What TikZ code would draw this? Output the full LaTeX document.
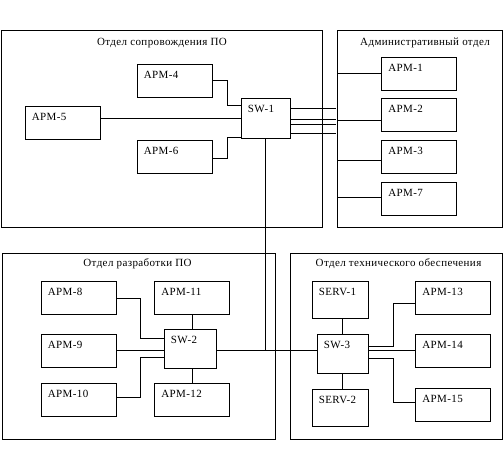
\documentclass[tikz,border=0pt]{standalone}
\usepackage{fontspec}
\setmainfont[LetterSpace=3.5]{Liberation Serif}
\tikzset{
  frame/.style={draw, line width=0.7pt},
  title/.style={inner sep=0pt},
  apm/.style={draw, line width=0.7pt, minimum width=75pt, minimum height=33pt, inner sep=0pt,
    label={[anchor=north west, inner sep=0pt, xshift=7pt, yshift=-7pt]north west:#1}},
  sw/.style={apm={#1}, minimum width=49pt, minimum height=40pt},
  serv/.style={apm={#1}, minimum width=56pt, minimum height=37pt},
  link/.style={line width=0.7pt}
}
\begin{document}
\begin{tikzpicture}[x=1pt,y=-1pt,font=\fontsize{11}{13}\selectfont]
\useasboundingbox (0,0) rectangle (504,456);
% departments
\draw[frame] (1,30) rectangle (322,227);
\draw[frame] (337,30) rectangle (502,227);
\draw[frame] (2,253) rectangle (275,439);
\draw[frame] (290,253) rectangle (502,439);
\node[title] (t1) at (162,43) {Отдел сопровождения ПО};
\node[title] (t2) at (425,43) {Административный отдел};
\node[title] (t3) at (137.5,264) {Отдел разработки ПО};
\node[title] (t4) at (398.5,264) {Отдел технического обеспечения};

% support dept
\node[apm=АРМ-4] (apm4) at (174.5,80.5) {};
\node[apm=АРМ-5] (apm5) at (62.5,123) {};
\node[apm=АРМ-6] (apm6) at (174.5,156.5) {};
\node[sw=SW-1] (sw1) at (265.5,118) {};
\draw[link] (apm4.east) -- ++(15,0) |- ([yshift=-8pt]sw1.north west);
\draw[link] (apm5.east |- sw1.west) -- (sw1.west);
\draw[link] ([yshift=-2pt]apm6.east) -- ++(15,0) |- ([yshift=1pt]sw1.south west);

% admin dept
\node[apm=АРМ-1] (apm1) at (419,74) {};
\node[apm=АРМ-2] (apm2) at (419,115) {};
\node[apm=АРМ-3] (apm3) at (419,156.5) {};
\node[apm=АРМ-7] (apm7) at (419,198.5) {};
\coordinate (bus) at (337,120);
\foreach \d in {11,22,27,36}
  \draw[link] ([yshift=-\d pt]sw1.north east) -- ++(46,0);
\draw[link] ([yshift=1pt]bus |- apm1.west) -- ([yshift=1.5pt]bus |- apm7.west);
\draw[link] ([yshift=1pt]apm1.west) -- ([yshift=1pt]bus |- apm1.west);
\draw[link] (bus) -- (apm2.west |- bus);
\draw[link] ([yshift=-3.5pt]apm3.west) -- ([yshift=-3.5pt]bus |- apm3.west);
\draw[link] ([yshift=1.5pt]apm7.west) -- ([yshift=1.5pt]bus |- apm7.west);

% development dept
\node[apm=АРМ-8] (apm8) at (78.5,298) {};
\node[apm=АРМ-9] (apm9) at (78.5,350.5) {};
\node[apm=АРМ-10] (apm10) at (78.5,400) {};
\node[apm=АРМ-11] (apm11) at (192,298) {};
\node[apm=АРМ-12] (apm12) at (192,400) {};
\node[sw=SW-2, minimum width=52pt, minimum height=39pt] (sw2) at (190,348.5) {};
\draw[link] (apm8.east) -- ++(24,0) |- ([yshift=-10pt]sw2.north west);
\draw[link] (apm9.east) -- (sw2.west |- apm9.east);
\draw[link] ([yshift=3pt]apm10.east) -- ++(24,0) |- ([yshift=11pt]sw2.south west);
\draw[link] (apm11.south) -- (apm11.south |- sw2.north);
\draw[link] (apm12.north) -- (apm12.north |- sw2.south);

% technical dept
\node[serv=SERV-1] (serv1) at (340,300) {};
\node[serv=SERV-2] (serv2) at (340,408) {};
\node[sw=SW-3, minimum width=51pt, minimum height=39pt] (sw3) at (342.5,353.5) {};
\node[apm=АРМ-13] (apm13) at (453,298) {};
\node[apm=АРМ-14] (apm14) at (453,350.5) {};
\node[apm=АРМ-15] (apm15) at (453,405) {};
\draw[link] (sw3.north) -- (sw3.north |- serv1.south);
\draw[link] (sw3.south) -- (sw3.south |- serv2.north);
\draw[link] ([yshift=-13pt]sw3.north east) -- ++(25,0) |- ([yshift=-5pt]apm13.west);
\draw[link] (sw3.east |- apm14.west) -- (apm14.west);
\draw[link] ([yshift=15pt]sw3.south east) -- ++(25,0) |- ([yshift=3pt]apm15.west);

% backbone
\coordinate (jn) at (265.5,350);
\draw[link] (sw1.south) -- (jn);
\draw[link] (sw2.east |- jn) -- (sw3.west |- jn);
\end{tikzpicture}
\end{document}
